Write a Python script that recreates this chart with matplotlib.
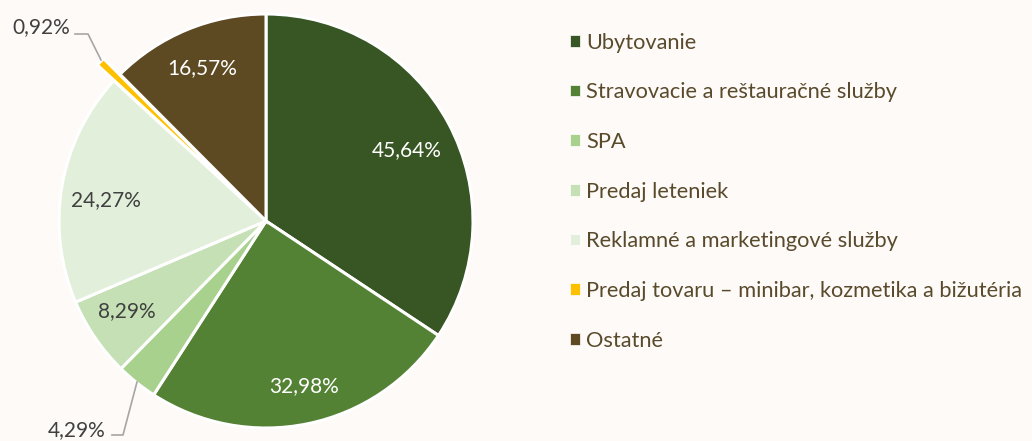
import matplotlib
matplotlib.use("Agg")
import matplotlib.pyplot as plt

categories = ["Ubytovanie", "Stravovacie a reštauračné služby", "SPA", "Predaj leteniek",
              "Reklamné a marketingové služby", "Predaj tovaru – minibar, kozmetika a bižutéria",
              "Ostatné"]
values = [45.64, 32.98, 4.29, 8.29, 24.27, 0.92, 16.57]
labels = ["45,64%", "32,98%", "4,29%", "8,29%", "24,27%", "0,92%", "16,57%"]
colors = ["#375623", "#548235", "#A9D18E", "#C5E0B4", "#E2EFDA", "#FFC000", "#5E4A22"]
label_colors = ["white", "white", "#404040", "#404040", "#404040", "#404040", "white"]
explode_frac = [0, 0, 0, 0, 0, 0.11, 0]

plt.rcParams['font.family'] = ['Lato', 'DejaVu Sans']
BG = "#FDFAF7"
W, H = 1032, 441
fig = plt.figure(figsize=(W / 100, H / 100), dpi=100, facecolor=BG)
ax = fig.add_axes([0, 0, 1, 1])
ax.set_facecolor(BG)

cx, cy, r = 266, H - 221, 207
wedges, _ = ax.pie(values, colors=colors, startangle=90, counterclock=False,
                   center=(cx, cy), radius=r, frame=True,
                   explode=[e * r for e in explode_frac],
                   wedgeprops=dict(edgecolor="white", linewidth=2.2))
ax.set_xlim(0, W)
ax.set_ylim(0, H)
ax.set_aspect('equal')
ax.axis('off')

# label positions (pixel coords, top-left origin)
label_pos = [(407, 150), (304, 386), (77, 430), (127, 311), (106, 200), (41, 27), (202, 68)]
for txt, (px, py), c in zip(labels, label_pos, label_colors):
    ax.text(px, H - py, txt, ha='center', va='center', fontsize=15, color=c)

# leader lines
lc = "#A6A6A6"
ax.plot([75, 88, 101], [H - 34, H - 34, H - 60], color=lc, lw=1.2)
ax.plot([112, 123, 137], [H - 435, H - 435, H - 382], color=lc, lw=1.2)

leg = fig.legend(wedges, categories, loc='upper left', bbox_to_anchor=(561 / W, 1 - 24 / H),
                 frameon=False, fontsize=15.7, labelcolor="#5A4A2C",
                 handlelength=0.45, handleheight=0.45, handletextpad=0.3,
                 labelspacing=1.36, borderaxespad=0)
for h in leg.legend_handles:
    h.set_edgecolor("white")
    h.set_linewidth(0.5)

fig.savefig("out.png", dpi=100, facecolor=BG)
